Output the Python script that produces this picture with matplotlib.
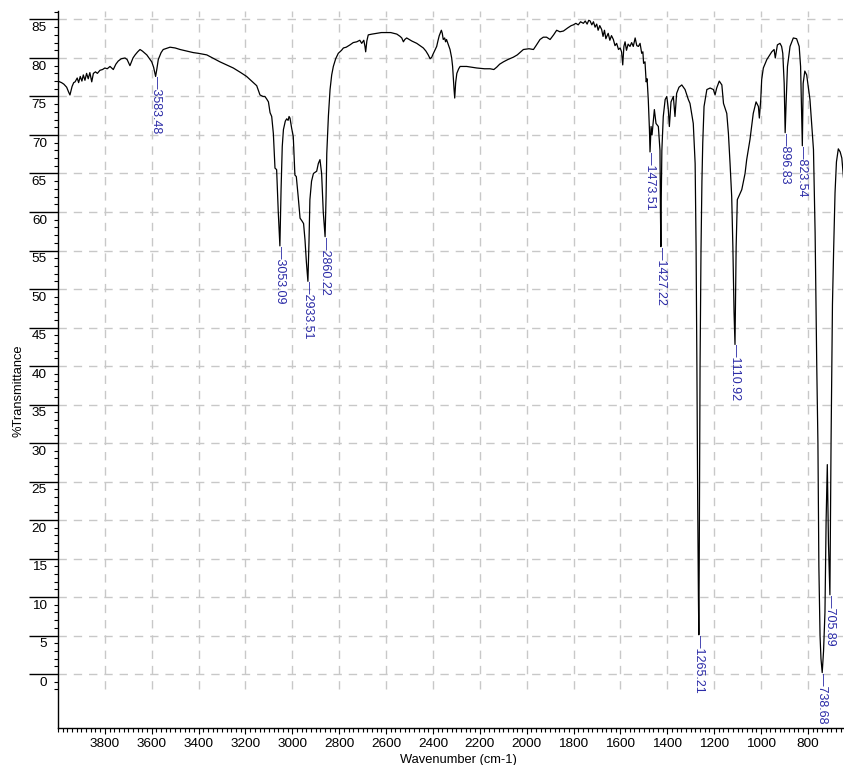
import matplotlib
matplotlib.use("Agg")
import matplotlib.pyplot as plt
from matplotlib.ticker import FixedLocator, MultipleLocator
import matplotlib.transforms as mtransforms

plt.rcParams['font.family'] = ['Liberation Sans', 'DejaVu Sans']

# ---- data ----
wavenumber = [
    4000, 3985, 3975, 3963, 3955, 3949, 3940, 3933, 3927, 3918, 3912, 3905, 3898, 3892, 3885,
    3878, 3871, 3864, 3856, 3849, 3840, 3832, 3821, 3810, 3800, 3790, 3778, 3764, 3753, 3743,
    3730, 3714, 3705, 3693, 3680, 3671, 3660, 3650, 3640, 3621, 3600, 3592, 3583.48, 3578, 3572,
    3560, 3551, 3522, 3500, 3479, 3450, 3423, 3400, 3365, 3340, 3309, 3280, 3252, 3220, 3195,
    3170, 3152, 3145, 3138, 3125, 3117, 3110, 3102, 3095, 3088, 3081, 3074, 3067, 3060, 3053.09,
    3048, 3043, 3038, 3030, 3024, 3018, 3014, 3010, 3003, 2996, 2989, 2983, 2975, 2967, 2958,
    2952, 2946, 2940, 2933.51, 2929, 2925, 2918, 2910, 2896, 2889, 2882, 2875, 2868, 2860.22,
    2856, 2853, 2846, 2839, 2832, 2825, 2815, 2804, 2790, 2782, 2770, 2754, 2740, 2725, 2712,
    2704, 2695, 2690, 2687, 2682, 2676, 2660, 2640, 2620, 2604, 2580, 2554, 2540, 2533, 2526,
    2520, 2512, 2490, 2469, 2441, 2430, 2420, 2412, 2405, 2401, 2392, 2384, 2378, 2373, 2364,
    2360, 2356, 2350, 2346, 2342, 2335, 2327, 2320, 2316, 2310, 2307, 2303, 2298, 2290, 2284,
    2256, 2235, 2213, 2180, 2156, 2140, 2128, 2115, 2099, 2080, 2057, 2040, 2025, 2014, 1990,
    1971, 1960, 1943, 1929, 1915, 1900, 1885, 1872, 1858, 1843, 1825, 1810, 1801, 1790, 1780,
    1770, 1758, 1750, 1742, 1735, 1729, 1722, 1715, 1708, 1701, 1695, 1688, 1680, 1674, 1668,
    1662, 1658, 1652, 1645, 1638, 1630, 1623, 1616, 1608, 1601, 1595, 1590, 1585, 1580, 1574,
    1567, 1559, 1552, 1545, 1537, 1530, 1523, 1516, 1509, 1504, 1501, 1495, 1490, 1486, 1481,
    1476, 1473.51, 1469, 1465, 1459, 1455, 1448, 1438, 1431, 1429, 1427.22, 1425.5, 1423, 1417, 1409,
    1402, 1396, 1391, 1384, 1374, 1367, 1360, 1350, 1338, 1324, 1310, 1303, 1289, 1281, 1277,
    1273.5, 1270, 1267, 1265.21, 1263.5, 1261.5, 1260, 1256, 1252, 1248.5, 1243, 1231, 1217, 1203, 1196,
    1189, 1178, 1167, 1160, 1146, 1139, 1132, 1125, 1120, 1115, 1110.92, 1106, 1101, 1092, 1082,
    1068, 1061, 1047, 1033, 1021, 1011, 1007, 1001, 997, 990, 975, 954, 944, 939, 930,
    919, 912, 907, 901, 896.83, 893, 887, 876, 862, 848, 837, 831, 826, 823.54, 820,
    813, 805, 791, 776, 769, 762, 757, 753, 748, 744, 738.68, 733, 727, 722, 717,
    712, 705.89, 701, 695, 690, 684, 678, 670, 662, 655, 648, 641,
]
transmittance = [
    77.0, 76.8, 76.6, 76.2, 75.6, 75.2, 76.3, 76.8, 76.9, 77.4, 76.8, 77.6, 77.0, 77.8, 77.1,
    78.0, 77.3, 78.1, 76.9, 78.0, 78.2, 78.0, 78.4, 78.5, 78.7, 78.6, 78.9, 78.5, 79.2, 79.6,
    79.9, 80.0, 79.8, 79.0, 80.0, 80.4, 80.8, 81.1, 80.9, 80.4, 79.5, 78.8, 77.6, 78.6, 79.8,
    80.7, 81.1, 81.4, 81.3, 81.1, 80.9, 80.7, 80.6, 80.4, 80.0, 79.5, 79.1, 78.7, 78.1, 77.6,
    76.9, 76.4, 75.8, 75.2, 75.0, 75.0, 74.7, 74.3, 72.9, 72.4, 70.2, 65.7, 65.5, 60.0, 55.6,
    63.0, 68.5, 70.7, 71.8, 72.1, 71.9, 72.4, 72.2, 70.9, 69.8, 64.8, 64.6, 62.0, 59.2, 58.8,
    58.5, 56.4, 53.5, 51.0, 56.0, 61.6, 64.0, 65.0, 65.3, 66.3, 66.8, 65.0, 60.0, 56.8,
    62.0, 67.6, 72.5, 75.9, 77.8, 78.9, 79.9, 80.6, 81.0, 81.3, 81.4, 81.7, 82.0, 82.1, 82.3,
    81.9, 82.3, 81.5, 80.8, 82.2, 83.0, 83.1, 83.2, 83.3, 83.3, 83.3, 83.1, 82.8, 82.6, 82.1,
    82.4, 82.6, 82.2, 81.9, 81.3, 80.9, 80.4, 79.9, 80.1, 80.4, 81.0, 81.5, 82.3, 82.9, 83.6,
    83.2, 82.4, 82.6, 82.1, 82.4, 81.8, 81.1, 80.0, 78.9, 76.0, 74.8, 76.8, 78.0, 78.6, 78.9,
    78.9, 78.8, 78.7, 78.6, 78.6, 78.5, 78.8, 79.2, 79.5, 79.8, 80.1, 80.4, 80.8, 81.1, 81.2,
    81.1, 81.6, 82.4, 82.7, 82.7, 82.4, 83.0, 83.6, 83.4, 83.5, 83.9, 84.2, 84.3, 84.5, 84.3,
    84.7, 84.5, 84.8, 84.4, 84.9, 84.8, 84.3, 84.7, 84.0, 84.4, 83.6, 84.2, 83.7, 82.8, 83.6,
    82.5, 82.8, 83.2, 82.3, 82.9, 82.4, 81.6, 81.9, 81.1, 81.3, 80.8, 79.1, 81.5, 82.1, 81.0,
    81.8, 81.5, 82.0, 81.5, 82.6, 81.6, 81.5, 81.9, 80.6, 80.8, 79.3, 79.5, 76.9, 77.3, 74.6,
    70.7, 67.8, 71.1, 70.0, 72.0, 73.3, 71.5, 71.1, 68.0, 60.0, 55.5, 62.0, 68.0, 72.4, 74.6,
    75.0, 73.5, 71.1, 74.3, 75.0, 72.4, 75.4, 76.2, 76.5, 75.9, 74.6, 74.1, 71.5, 66.3, 55.5,
    40.0, 22.0, 10.0, 5.1, 15.0, 30.0, 40.0, 55.0, 64.0, 69.0, 73.7, 75.9, 76.1, 75.9, 75.2,
    76.1, 77.0, 76.5, 74.1, 72.8, 70.2, 66.3, 62.0, 55.5, 47.0, 42.8, 55.5, 61.6, 62.2, 62.9,
    65.0, 66.8, 69.4, 72.8, 74.3, 73.7, 72.2, 74.6, 77.2, 78.7, 79.8, 80.8, 81.1, 80.0, 81.7,
    81.9, 81.5, 80.6, 76.7, 70.3, 74.0, 78.9, 81.5, 82.6, 82.5, 81.5, 78.9, 72.0, 68.6, 76.7,
    78.3, 77.8, 74.6, 68.1, 57.3, 40.0, 30.0, 14.0, 5.0, 2.0, 0.2, 3.0, 8.0, 20.0, 27.2,
    17.0, 10.3, 30.0, 48.0, 55.0, 62.5, 66.5, 68.2, 67.8, 67.0, 64.5, 63.0,
]

peak_wn = [3583.48, 3053.09, 2933.51, 2860.22, 1473.51, 1427.22,
           1265.21, 1110.92, 896.83, 823.54, 738.68, 705.89]
peak_T = [77.6, 55.6, 51.0, 56.8, 67.8, 55.5, 5.1, 42.8, 70.3, 68.6, 0.2, 10.3]

ytick_values = list(range(0, 90, 5))
xtick_values = list(range(3800, 600, -200))

# ---- figure ----
fig = plt.figure(figsize=(8.45, 7.65), dpi=100)
ax = fig.add_axes([58 / 845, 37 / 765, 785 / 845, 717 / 765])
ax.set_xlim(4000, 650)
ax.set_ylim(-7, 86.1)

grid_kw = dict(color='#c8c8c8', linewidth=1.0, linestyle=(0, (6, 5)), zorder=0)
ax.hlines(ytick_values, 4000, 650, **grid_kw)
ax.vlines(xtick_values, -2, 86.1, **grid_kw)

ax.plot(wavenumber, transmittance, color='black', linewidth=0.9, zorder=3)

label_color = '#2a2aa6'
for w, t in zip(peak_wn, peak_T):
    ax.text(w, t, '\u2014' + f'{w:.2f}', rotation=270, ha='center', va='top',
            color=label_color, fontsize=9, zorder=4)

# spines
for s in ('top', 'right'):
    ax.spines[s].set_visible(False)
for s in ('left', 'bottom'):
    ax.spines[s].set_linewidth(1.0)

# y axis ticks
ax.set_yticks(ytick_values)
ax.yaxis.set_minor_locator(FixedLocator(list(range(-2, 87))))
ax.tick_params(axis='y', which='major', length=21, width=1.0, pad=-13, labelsize=9.7)
ax.tick_params(axis='y', which='minor', length=3, width=0.8)
shift = mtransforms.ScaledTranslation(0, -2 / 72, fig.dpi_scale_trans)
for lbl in ax.get_yticklabels():
    lbl.set_verticalalignment('top')
    lbl.set_transform(lbl.get_transform() + shift)

# x axis ticks
ax.set_xticks(xtick_values)
ax.xaxis.set_minor_locator(MultipleLocator(20))
ax.tick_params(axis='x', which='major', length=4, width=0.8, pad=3, labelsize=9.7)
ax.tick_params(axis='x', which='minor', length=3, width=0.8)

ax.set_xlabel('Wavenumber (cm-1)', fontsize=9.3)
ax.xaxis.set_label_coords((458 - 58) / 785, -0.036)
ax.set_ylabel('%Transmittance', fontsize=9.3)
ax.yaxis.set_label_coords(-0.043, 0.47)

fig.savefig('out.png', dpi=100)
